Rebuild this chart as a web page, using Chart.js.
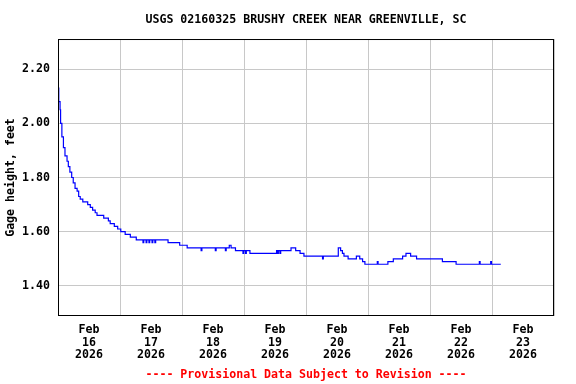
<!DOCTYPE html>
<html><head><meta charset="utf-8">
<script src="https://cdn.jsdelivr.net/npm/chart.js@4/dist/chart.umd.min.js"></script>
<style>html,body{margin:0;padding:0;background:#fff;} #wrap{width:576px;height:384px;}</style>
</head><body><div id="wrap"><canvas id="c" width="576" height="384"></canvas></div>
<script>
// Hours since Feb 16 2026 00:00 and gage height (feet)
const hours = [0,0.3,0.8,1.0,1.5,2.1,2.7,3.5,4.0,4.6,5.3,5.9,6.6,7.4,8.0,8.6,9.6,11.5,12.5,13.4,14.4,15.1,17.7,19.5,20.2,21.8,23.1,24.3,26.0,28.0,30.3,
  32.9,33.2,34.1,34.4,35.2,35.5,36.4,36.7,37.5,37.8,42.6,47.1,50.0,
  55.4,55.7,60.9,61.2,64.8,65.1,66.3,67.0,68.7,71.6,71.9,72.6,72.9,74.3,84.6,85.0,85.3,85.9,86.2,
  90.2,92.0,93.7,95.2,102.4,102.7,108.5,109.4,110.1,110.7,112.3,115.5,116.8,117.9,118.8,123.6,123.9,
  127.7,129.8,133.4,134.7,136.5,138.8,148.8,154.1,163.1,163.4,167.5,167.8,171.4];
const gageHeight = [2.13,2.08,2.05,2.00,1.95,1.91,1.88,1.86,1.84,1.82,1.80,1.78,1.76,1.75,1.73,1.72,1.71,1.70,1.69,1.68,1.67,1.66,1.65,1.64,1.63,1.62,1.61,1.60,1.59,1.58,1.57,
  1.56,1.57,1.56,1.57,1.56,1.57,1.56,1.57,1.56,1.57,1.56,1.55,1.54,
  1.53,1.54,1.53,1.54,1.53,1.54,1.55,1.54,1.53,1.52,1.53,1.52,1.53,1.52,1.53,1.52,1.53,1.52,1.53,
  1.54,1.53,1.52,1.51,1.50,1.51,1.54,1.53,1.52,1.51,1.50,1.51,1.50,1.49,1.48,1.49,1.48,
  1.49,1.50,1.51,1.52,1.51,1.50,1.49,1.48,1.49,1.48,1.49,1.48,1.48];
const monthLabel = 'Feb';
const dayLabels = ['16','17','18','19','20','21','22','23'];
const yearLabel = '2026';
const yTicks = [1.40, 1.60, 1.80, 2.00, 2.20];
const chartTitle = 'USGS 02160325 BRUSHY CREEK NEAR GREENVILLE, SC';
const yTitle = 'Gage height, feet';
const footer = '---- Provisional Data Subject to Revision ----';

const FAM = "'DejaVu Sans Mono', 'Liberation Mono', monospace";
const xTickValues = [];
for (let i = 0; i <= dayLabels.length; i++) { xTickValues.push(i * 24); if (i < dayLabels.length) xTickValues.push(i * 24 + 12); }

const frame = { id: 'frame', afterDatasetsDraw(chart) {
  const {ctx, chartArea: a} = chart;
  ctx.save(); ctx.strokeStyle = '#000'; ctx.lineWidth = 1;
  ctx.strokeRect(a.left + 0.5, a.top + 0.5, a.right - a.left - 1, a.bottom - a.top - 1);
  ctx.restore();
}};

new Chart(document.getElementById('c'), {
  type: 'line',
  data: { datasets: [{ data: hours.map((h, i) => ({x: h, y: gageHeight[i]})),
    borderColor: '#0000ff', borderWidth: 1.2, pointRadius: 0, stepped: 'before', fill: false }] },
  options: {
    responsive: false, animation: false, devicePixelRatio: 1,
    layout: { padding: { top: 0, left: 0, right: 22, bottom: 0 } },
    plugins: {
      legend: { display: false }, tooltip: { enabled: false },
      title: { display: true, fullSize: false, text: chartTitle, color: '#000',
        font: { family: FAM, size: 11.6, weight: 'bold', lineHeight: 1.2 }, padding: { top: 13, bottom: 12.1 } }
    },
    scales: {
      x: { type: 'linear', min: 0, max: 192,
        afterBuildTicks(s) { s.ticks = xTickValues.map(v => ({value: v})); },
        afterFit(s) { s.height = 68; },
        grid: { drawTicks: false, lineWidth: 1, color: (c) => (c.tick && c.tick.value % 24 === 0) ? '#c8c8c8' : 'rgba(0,0,0,0)' },
        border: { display: false },
        ticks: { autoSkip: false, maxRotation: 0, minRotation: 0, padding: 7, color: '#000',
          font: { family: FAM, size: 11.6, weight: 'bold', lineHeight: 1.12 },
          callback: (v) => (v % 24 === 12) ? [monthLabel, dayLabels[(v - 12) / 24], yearLabel] : '' },
        title: { display: true, text: footer, color: '#ff0000',
          font: { family: FAM, size: 11.6, weight: 'bold', lineHeight: 1.2 }, padding: { top: 0, bottom: 2 } }
      },
      y: { min: 1.289, max: 2.311,
        afterBuildTicks(s) { s.ticks = yTicks.map(v => ({value: v})); },
        afterFit(s) { s.width = 58; },
        grid: { drawTicks: false, color: '#c8c8c8', lineWidth: 1 },
        border: { display: false },
        ticks: { padding: 8, color: '#000', font: { family: FAM, size: 11.6, weight: 'bold' },
          callback: (v) => Number(v).toFixed(2) },
        title: { display: true, text: yTitle, color: '#000',
          font: { family: FAM, size: 11.6, weight: 'bold', lineHeight: 1.2 }, padding: { top: 4, bottom: 0 } }
      }
    }
  },
  plugins: [frame]
});
</script></body></html>
